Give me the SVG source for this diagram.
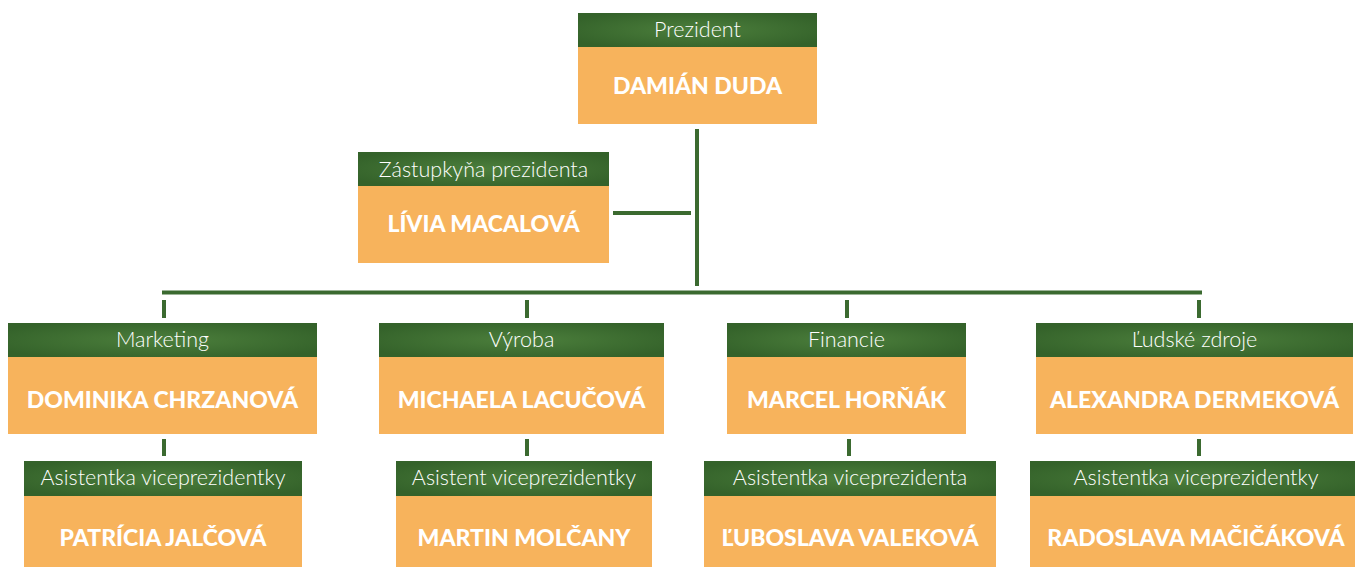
<svg xmlns="http://www.w3.org/2000/svg" width="1355" height="567" viewBox="0 0 1355 567">
<defs>
<radialGradient id="hg" cx="0.5" cy="0.5" r="0.6">
<stop offset="0" stop-color="#4c7f3c"/>
<stop offset="1" stop-color="#34622a"/>
</radialGradient>
<style>
.hd{fill:url(#hg)}
.bd{fill:#f7b35c}
.ht{font-family:Lato,"Open Sans",sans-serif;font-weight:300;font-size:21.5px;fill:#ffffff;text-anchor:middle}
.nt{font-family:Lato,"Open Sans",sans-serif;font-weight:900;font-size:23px;fill:#ffffff;text-anchor:middle}
.ln{stroke:#3b6a30;stroke-width:4;fill:none}
</style>
</defs>
<rect width="1355" height="567" fill="#ffffff"/>
<g id="connectors">
<line class="ln" x1="697" y1="129" x2="697" y2="286"/>
<line class="ln" x1="613" y1="213" x2="691" y2="213"/>
<line class="ln" x1="162" y1="292.5" x2="1202" y2="292.5"/>
<line class="ln" x1="164" y1="300" x2="164" y2="318"/>
<line class="ln" x1="527" y1="300" x2="527" y2="318"/>
<line class="ln" x1="847" y1="300" x2="847" y2="318"/>
<line class="ln" x1="1199" y1="300" x2="1199" y2="318"/>
<line class="ln" x1="164" y1="439" x2="164" y2="456"/>
<line class="ln" x1="527" y1="439" x2="527" y2="456"/>
<line class="ln" x1="849" y1="439" x2="849" y2="456"/>
<line class="ln" x1="1199" y1="439" x2="1199" y2="456"/>
</g>
<g id="prezident">
<rect class="hd" x="578" y="13" width="239" height="34"/>
<rect class="bd" x="578" y="47" width="239" height="77"/>
<text class="ht" x="697.5" y="37">Prezident</text>
<text class="nt" x="697.5" y="94">DAMIÁN DUDA</text>
</g>
<g id="zastupkyna">
<rect class="hd" x="358" y="152" width="251" height="34"/>
<rect class="bd" x="358" y="186" width="251" height="77"/>
<text class="ht" x="483.5" y="177">Zástupkyňa prezidenta</text>
<text class="nt" x="483.5" y="232">LÍVIA MACALOVÁ</text>
</g>
<g id="marketing">
<rect class="hd" x="8" y="323" width="309" height="34"/>
<rect class="bd" x="8" y="357" width="309" height="77"/>
<text class="ht" x="162.5" y="347">Marketing</text>
<text class="nt" x="162.5" y="408">DOMINIKA CHRZANOVÁ</text>
</g>
<g id="vyroba">
<rect class="hd" x="379" y="323" width="285" height="34"/>
<rect class="bd" x="379" y="357" width="285" height="77"/>
<text class="ht" x="521.5" y="347">Výroba</text>
<text class="nt" x="521.5" y="408">MICHAELA LACUČOVÁ</text>
</g>
<g id="financie">
<rect class="hd" x="727" y="323" width="239" height="34"/>
<rect class="bd" x="727" y="357" width="239" height="77"/>
<text class="ht" x="846.5" y="347">Financie</text>
<text class="nt" x="846.5" y="408">MARCEL HORŇÁK</text>
</g>
<g id="ludske-zdroje">
<rect class="hd" x="1036" y="323" width="317" height="34"/>
<rect class="bd" x="1036" y="357" width="317" height="77"/>
<text class="ht" x="1194.5" y="347">Ľudské zdroje</text>
<text class="nt" x="1194.5" y="408">ALEXANDRA DERMEKOVÁ</text>
</g>
<g id="asist-marketing">
<rect class="hd" x="24" y="461" width="278" height="35"/>
<rect class="bd" x="24" y="496" width="278" height="71"/>
<text class="ht" x="163" y="485">Asistentka viceprezidentky</text>
<text class="nt" x="163" y="546">PATRÍCIA JALČOVÁ</text>
</g>
<g id="asist-vyroba">
<rect class="hd" x="396" y="461" width="256" height="35"/>
<rect class="bd" x="396" y="496" width="256" height="71"/>
<text class="ht" x="524" y="485">Asistent viceprezidentky</text>
<text class="nt" x="524" y="546">MARTIN MOLČANY</text>
</g>
<g id="asist-financie">
<rect class="hd" x="704" y="461" width="292" height="35"/>
<rect class="bd" x="704" y="496" width="292" height="71"/>
<text class="ht" x="850" y="485">Asistentka viceprezidenta</text>
<text class="nt" x="850" y="546">ĽUBOSLAVA VALEKOVÁ</text>
</g>
<g id="asist-ludske">
<rect class="hd" x="1030" y="461" width="325" height="35"/>
<rect class="bd" x="1030" y="496" width="325" height="71"/>
<text class="ht" x="1196" y="485">Asistentka viceprezidentky</text>
<text class="nt" x="1196" y="546">RADOSLAVA MAČIČÁKOVÁ</text>
</g>
</svg>
